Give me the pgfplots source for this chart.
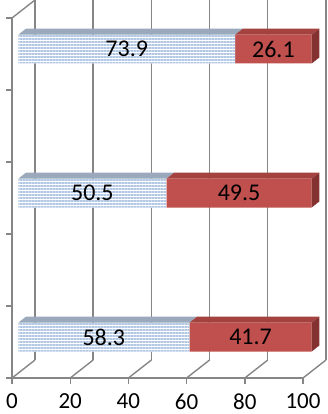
\documentclass[border=0pt]{standalone}
\usepackage{fontspec}
\setmainfont{Carlito}
\usepackage{pgfplots}
\pgfplotsset{compat=1.18}
\usepackage{pgfplotstable}
\usetikzlibrary{patterns.meta}
\definecolor{gridc}{HTML}{868686}
\definecolor{redfront}{HTML}{C0504D}
\definecolor{redtop}{HTML}{A4423F}
\definecolor{redside}{HTML}{843230}
\definecolor{bluetop}{HTML}{9AA9BB}
\definecolor{bluestripe}{HTML}{B3C8E4}

\pgfplotstableread{
y     a     b     la    lb
0.284 58.3  41.7  58.3  41.7
1.284 50.5  49.5  50.5  49.5
2.284 73.9  26.1  73.9  26.1
}\data

\begin{document}
\begin{tikzpicture}
\path[use as bounding box] (-12pt,-36pt) rectangle (316pt,378pt);
% front plane axis with ticks and walls
\begin{axis}[
  x=2.91pt, y=144pt, anchor=origin, at={(0pt,0pt)},
  xmin=0, xmax=100, ymin=0, ymax=2.5,
  axis x line*=bottom, axis y line*=left,
  axis line style={gridc, line width=1.4pt, -},
  xtick={0,20,40,60,80,100},
  ytick={0,0.5,1,1.5,2,2.5}, yticklabels={},
  tick align=outside, major tick length=6pt,
  tick style={gridc, line width=1.4pt},
  xticklabel style={font=\fontsize{23}{23}\selectfont, text=black, yshift=-6pt},
  /pgf/number format/assume math mode=true,
  clip=false,
]
% back wall verticals and floor diagonals
\addplot[gridc, line width=1.4pt] coordinates {(7.9,0.125) (7.9,2.625)};
\addplot[gridc, line width=1.4pt] coordinates {(27.9,0.125) (27.9,2.625)};
\addplot[gridc, line width=1.4pt] coordinates {(47.9,0.125) (47.9,2.625)};
\addplot[gridc, line width=1.4pt] coordinates {(67.9,0.125) (67.9,2.625)};
\addplot[gridc, line width=1.4pt] coordinates {(87.9,0.125) (87.9,2.625)};
\addplot[gridc, line width=1.4pt] coordinates {(107.9,0.125) (107.9,2.625)};
\addplot[gridc, line width=1.4pt] coordinates {(0,0) (7.9,0.125)};
\addplot[gridc, line width=1.4pt] coordinates {(20,0) (27.9,0.125)};
\addplot[gridc, line width=1.4pt] coordinates {(40,0) (47.9,0.125)};
\addplot[gridc, line width=1.4pt] coordinates {(60,0) (67.9,0.125)};
\addplot[gridc, line width=1.4pt] coordinates {(80,0) (87.9,0.125)};
\addplot[gridc, line width=1.4pt] coordinates {(100,0) (107.9,0.125)};
\addplot[gridc, line width=1.4pt] coordinates {(0,2.5) (7.9,2.625)};
\end{axis}
% stacked bars (front faces)
\begin{axis}[
  x=2.934pt, y=144pt, anchor=origin, at={(6.3pt,0pt)},
  xmin=0, xmax=100, ymin=0, ymax=2.5,
  hide axis, clip=false,
  xbar stacked, bar width=28.8pt,
]
\addplot[draw=none, preaction={fill=white},
  pattern={Lines[angle=0, distance=3pt, line width=1.3pt]}, pattern color=bluestripe]
  table[x=a, y=y]{\data};
\addplot[draw=none, fill=redfront] table[x=b, y=y]{\data};
\end{axis}
% 3D faces and value labels
\begin{axis}[
  x=2.934pt, y=144pt, anchor=origin, at={(6.3pt,0pt)},
  xmin=0, xmax=100, ymin=0, ymax=2.5,
  hide axis, clip=false,
]
% top faces: blue
\addplot[draw=none, fill=bluetop] coordinates {(0,0.384) (58.3,0.384) (60.92,0.426) (2.62,0.426)};
\addplot[draw=none, fill=bluetop] coordinates {(0,1.384) (50.5,1.384) (53.12,1.426) (2.62,1.426)};
\addplot[draw=none, fill=bluetop] coordinates {(0,2.384) (73.9,2.384) (76.52,2.426) (2.62,2.426)};
% top faces: red
\addplot[draw=none, fill=redtop] coordinates {(58.3,0.384) (100,0.384) (102.62,0.426) (60.92,0.426)};
\addplot[draw=none, fill=redtop] coordinates {(50.5,1.384) (100,1.384) (102.62,1.426) (53.12,1.426)};
\addplot[draw=none, fill=redtop] coordinates {(73.9,2.384) (100,2.384) (102.62,2.426) (76.52,2.426)};
% side faces
\addplot[draw=none, fill=redside] coordinates {(100,0.184) (100,0.384) (102.62,0.426) (102.62,0.226)};
\addplot[draw=none, fill=redside] coordinates {(100,1.184) (100,1.384) (102.62,1.426) (102.62,1.226)};
\addplot[draw=none, fill=redside] coordinates {(100,2.184) (100,2.384) (102.62,2.426) (102.62,2.226)};
% labels
\addplot[draw=none, mark=none, point meta=explicit symbolic,
  nodes near coords, every node near coord/.append style={anchor=center, font=\fontsize{24}{24}\selectfont, text=black}]
  table[x expr=\thisrow{a}/2, y=y, meta=la]{\data};
\addplot[draw=none, mark=none, point meta=explicit symbolic,
  nodes near coords, every node near coord/.append style={anchor=center, font=\fontsize{24}{24}\selectfont, text=black}]
  table[x expr=\thisrow{a}+\thisrow{b}/2, y=y, meta=lb]{\data};
\end{axis}
\end{tikzpicture}
\end{document}
